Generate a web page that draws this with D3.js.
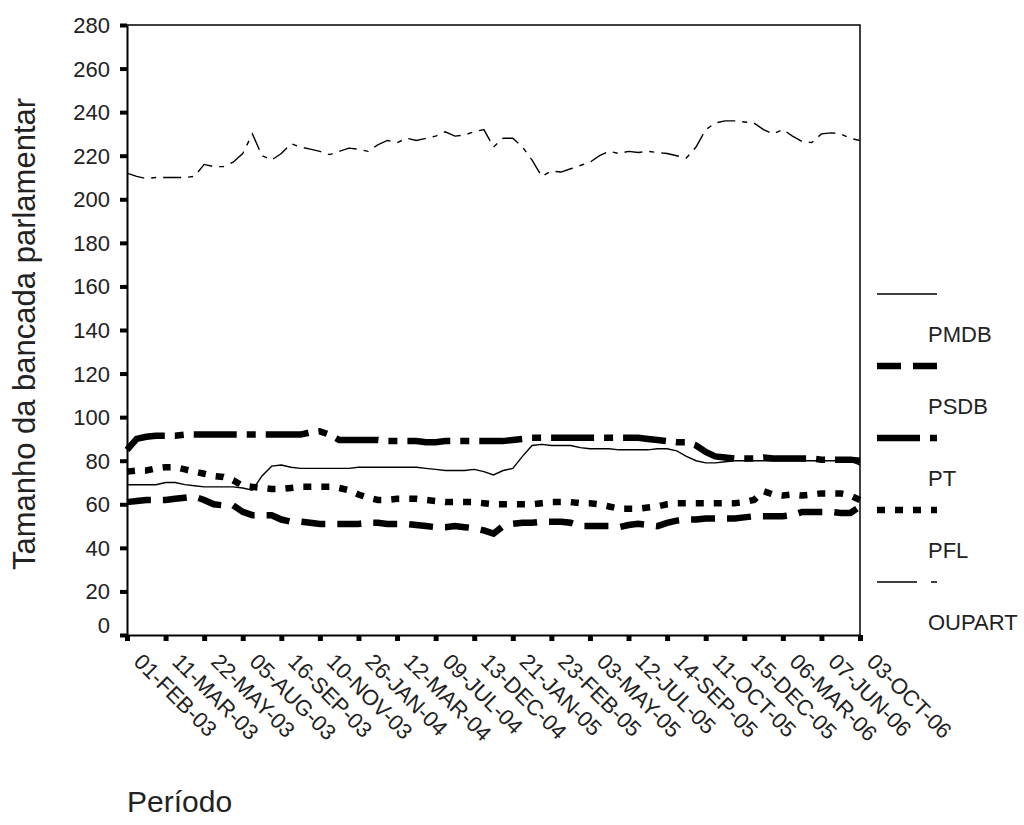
<!DOCTYPE html>
<html lang="pt">
  <head>
    <meta charset="UTF-8" />
    <title>Tamanho da bancada parlamentar</title>
    <script src="https://cdn.jsdelivr.net/npm/d3@7"></script>
    <style>
      body {
        margin: 0;
        background: #ffffff;
        font-family: "Liberation Sans", Arial, sans-serif;
      }
      text {
        fill: #222;
      }
    </style>
  </head>
  <body>
    <div id="chart"></div>

    <script>
      // x tick labels (one per 4 data points)
      const tickLabels = [
        "01-FEB-03", "11-MAR-03", "22-MAY-03", "05-AUG-03", "16-SEP-03",
        "10-NOV-03", "26-JAN-04", "12-MAR-04", "09-JUL-04", "13-DEC-04",
        "21-JAN-05", "23-FEB-05", "03-MAY-05", "12-JUL-05", "14-SEP-05",
        "11-OCT-05", "15-DEC-05", "06-MAR-06", "07-JUN-06", "03-OCT-06",
      ];
      const yTicks = [0, 20, 40, 60, 80, 100, 120, 140, 160, 180, 200, 220, 240, 260, 280];

      // series values (4 points per tick interval)
      const pmdb = [
        69, 69, 69, 69, 70, 70, 69, 68.5, 68, 68, 68, 68, 67.5, 66.5, 73, 77.5,
        78, 77, 76.5, 76.5, 76.5, 76.5, 76.5, 76.5, 77, 77, 77, 77, 77, 77, 77, 76.5,
        76, 75.5, 75.5, 75.5, 76, 75, 73.5, 75.5, 76.5, 82, 87, 87.5, 87, 87, 87, 86,
        85.5, 85.5, 85.5, 85, 85, 85, 85, 85.5, 85.5, 84.5, 82, 80, 79, 79, 79.5, 80,
        80, 80, 80, 80, 80, 80, 80, 80, 80, 80, 80, 80, 78,
      ];
      const psdb = [
        61, 61.5, 62, 62, 62, 62.5, 63, 63.5, 62, 60, 59.5, 59.5, 56.5, 55, 55, 55,
        53, 52, 52, 51.5, 51, 51, 51, 51, 51, 51.5, 51.5, 51, 51, 51, 50.5, 50,
        49.5, 49.5, 50, 49.5, 49, 48, 46.5, 50, 51, 51.5, 51.5, 52, 52, 52, 51.5, 50,
        50, 50, 50, 49.5, 50.5, 51, 50.5, 50, 51.5, 52.5, 53, 53, 53.5, 53.5, 53.5, 53.5,
        54, 54.5, 54.5, 54.5, 54.5, 55, 56.5, 56.5, 56.5, 56.5, 56, 56, 59,
      ];
      const pt = [
        85, 90, 91, 91.5, 91.5, 91.5, 92, 92, 92, 92, 92, 92, 92, 92, 92, 92,
        92, 92, 92, 93, 93.5, 92, 89.5, 89.5, 89.5, 89.5, 89.5, 89, 89, 89, 89, 88.5,
        88.5, 89, 89, 89, 89, 89, 89, 89, 89.5, 90, 90.5, 90.5, 90.5, 90.5, 90.5, 90.5,
        90.5, 90.5, 90.5, 90.5, 90.5, 90.5, 90, 89.5, 89, 88.5, 88.5, 87, 84, 82, 81.5, 81,
        81, 81, 81.5, 81, 81, 81, 81, 81, 80.5, 80.5, 80.5, 80.5, 80,
      ];
      const pfl = [
        75, 75.5, 75.5, 76.5, 77, 77, 76, 75, 74, 73, 72.5, 71, 68.5, 68, 67.5, 67,
        67, 67.5, 68, 68, 68, 68, 67.5, 66.5, 64.5, 63, 62, 62, 62.5, 62.5, 62.5, 62,
        61.5, 61, 61, 61, 61, 60.5, 60, 60, 60, 60, 60, 60.5, 61, 61, 61, 60.5,
        60.5, 60, 59, 58, 58, 58, 58.5, 59, 60, 60.5, 60.5, 60.5, 60.5, 60.5, 60.5, 60.5,
        61, 62, 66, 64.5, 64, 64.5, 64, 64.5, 65, 65, 65, 64, 62,
      ];
      const oupart = [
        212, 210.5, 209.5, 210, 210, 210, 210, 210.5, 216, 215, 215, 217, 221, 230, 220, 218,
        221, 225.5, 224, 223, 222, 220.5, 222, 223.5, 223, 222, 225, 227, 226, 228, 227, 228,
        229, 231, 229, 229.5, 231, 232, 224, 228, 228, 224, 218, 210.5, 213, 212.5, 214, 215.5,
        217, 220, 222, 221, 222, 221.5, 222, 221.5, 221, 220, 219, 224, 232, 235, 236, 236,
        235.5, 235, 232, 230, 232, 229, 226.5, 226, 230, 230.5, 230, 228, 227,
      ];

      const seriesNames = ["PMDB", "PSDB", "PT", "PFL", "OUPART"];
      const seriesValues = [pmdb, psdb, pt, pfl, oupart];
      const seriesStyles = [
        { width: 1.4, dash: null, legendDash: null },
        { width: 6.5, dash: "24,12", legendDash: "24,12" },
        { width: 6.5, dash: "43,10,9,10", legendDash: "43,10,9,10" },
        { width: 6.5, dash: "8,10", legendDash: "8,10" },
        { width: 1.4, dash: "18,7,5,7", legendDash: "40,14,6,14" },
      ];

      const W = 1024, H = 825;
      const margin = { left: 127, right: 860, top: 25, bottom: 635 };

      const svg = d3
        .select("#chart")
        .append("svg")
        .attr("width", W)
        .attr("height", H);

      const x = d3
        .scalePoint()
        .domain(d3.range(pmdb.length))
        .range([margin.left, margin.right]);

      const y = d3.scaleLinear().domain([0, 280]).range([margin.bottom, margin.top]);

      // frame (top + right)
      svg.append("path")
        .attr("d", `M${margin.left},${margin.top}H${margin.right}V${margin.bottom}`)
        .attr("fill", "none")
        .attr("stroke", "#000")
        .attr("stroke-width", 1.5);

      // Y axis
      const yAxis = svg
        .append("g")
        .attr("transform", `translate(${margin.left},0)`)
        .call(d3.axisLeft(y).tickValues(yTicks).tickSizeInner(7).tickSizeOuter(0).tickPadding(10));
      yAxis.select(".domain").attr("stroke-width", 2);
      yAxis.selectAll(".tick line").attr("stroke-width", 4);
      yAxis
        .selectAll(".tick text")
        .style("font-size", "22px")
        .style("font-family", '"Liberation Sans", Arial, sans-serif')
        .attr("fill", "#222")
        .attr("dy", (d) => (d === 0 ? "-0.12em" : "0.34em"));

      // X axis
      const xAxis = svg
        .append("g")
        .attr("transform", `translate(0,${margin.bottom})`)
        .call(
          d3
            .axisBottom(x)
            .tickValues(d3.range(0, pmdb.length, 4))
            .tickFormat((i) => tickLabels[i / 4])
            .tickSizeInner(6)
            .tickSizeOuter(0)
        );
      xAxis.select(".domain").attr("stroke-width", 2);
      xAxis.selectAll(".tick line").attr("stroke-width", 5);
      xAxis
        .selectAll(".tick text")
        .style("font-size", "22px")
        .style("font-family", '"Liberation Sans", Arial, sans-serif')
        .attr("fill", "#222")
        .attr("dy", null)
        .attr("y", null)
        .style("text-anchor", "start")
        .attr("transform", "translate(5,28) rotate(45)");

      // lines
      const line = d3
        .line()
        .x((d, i) => x(i))
        .y((d) => y(d));

      seriesValues.forEach((vals, k) => {
        svg.append("path")
          .datum(vals)
          .attr("fill", "none")
          .attr("stroke", "#000")
          .attr("stroke-width", seriesStyles[k].width)
          .attr("stroke-dasharray", seriesStyles[k].dash)
          .attr("d", line);
      });

      // legend
      const legend = svg.append("g").attr("transform", "translate(877,294)");
      seriesNames.forEach((name, k) => {
        const g = legend.append("g").attr("transform", `translate(0,${k * 72})`);
        g.append("line")
          .attr("x1", 0)
          .attr("x2", 60)
          .attr("stroke", "#000")
          .attr("stroke-width", seriesStyles[k].width)
          .attr("stroke-dasharray", seriesStyles[k].legendDash);
        g.append("text")
          .attr("x", 51)
          .attr("y", 48)
          .style("font-size", "22px")
          .attr("fill", "#333")
          .text(name);
      });

      // axis titles
      svg.append("text")
        .attr("transform", `translate(35,${(margin.top + margin.bottom) / 2 + 4}) rotate(-90)`)
        .attr("text-anchor", "middle")
        .style("font-size", "31px")
        .attr("fill", "#333")
        .text("Tamanho da bancada parlamentar");

      svg.append("text")
        .attr("x", margin.left)
        .attr("y", 812)
        .style("font-size", "30px")
        .attr("fill", "#333")
        .text("Período");
    </script>
  </body>
</html>
